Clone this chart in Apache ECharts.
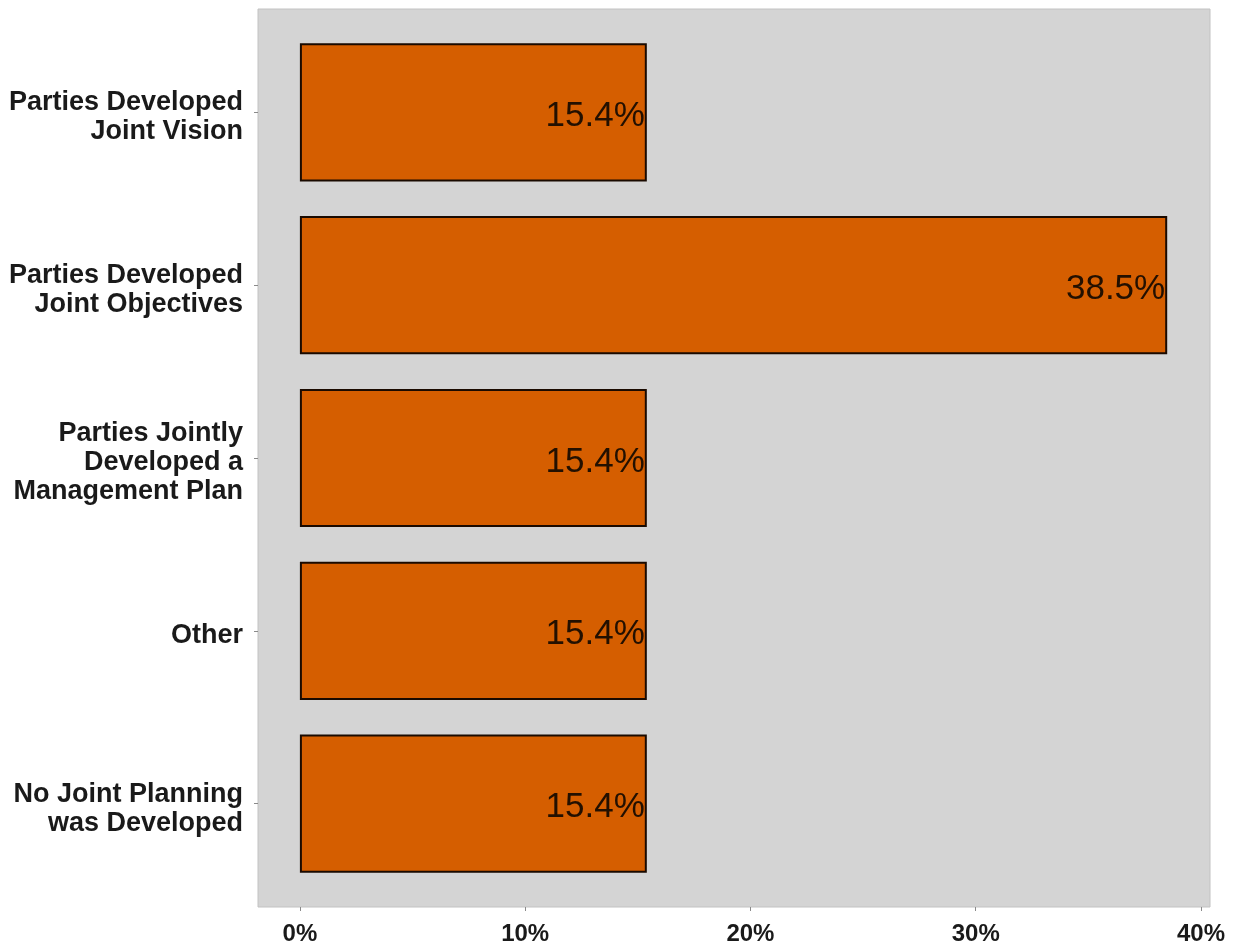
<!DOCTYPE html>
<html>
<head>
<meta charset="utf-8">
<script src="https://cdn.jsdelivr.net/npm/echarts@6/dist/echarts.min.js"></script>
<style>
  html, body { margin: 0; padding: 0; background: #ffffff; }
  #chart { width: 1233px; height: 949px; }
</style>
</head>
<body>
<div id="chart"></div>
<script>
// Categories (top to bottom) and their shares, in percent
const categories = [
  'Parties Developed\nJoint Vision',
  'Parties Developed\nJoint Objectives',
  'Parties Jointly\nDeveloped a\nManagement Plan',
  'Other',
  'No Joint Planning\nwas Developed'
];
const shares = [15.4, 38.5, 15.4, 15.4, 15.4];
const tickValues = [0, 10, 20, 30, 40];
const tickLabels = ['0%', '10%', '20%', '30%', '40%'];

const X_MIN = -1.86, X_MAX = 40.4;
const FONT = '"Liberation Sans", Arial, sans-serif';

const chart = echarts.init(document.getElementById('chart'), null, { renderer: 'canvas' });

chart.setOption({
  backgroundColor: '#ffffff',
  animation: false,
  grid: [
    // grey panel with the percentage axis
    { left: 258, right: 23, top: 9, bottom: 42, show: true,
      backgroundColor: '#d4d4d4', borderColor: '#c2c2c2', borderWidth: 1 },
    // band area for the bars (panel padded by 0.1 band at each end)
    { left: 258, right: 23, top: 26, bottom: 59 },
    // category text sits a few pixels below the tick centres
    { left: 258, right: 23, top: 31, bottom: 54 }
  ],
  xAxis: [
    {
      gridIndex: 0, type: 'value', min: X_MIN, max: X_MAX,
      axisLine: { show: false },
      splitLine: { show: false },
      axisTick: { show: true, customValues: tickValues, length: 4,
                  lineStyle: { color: '#8a8a8a', width: 1 } },
      axisLabel: {
        customValues: tickValues,
        formatter: v => tickLabels[tickValues.indexOf(v)],
        fontFamily: FONT, fontWeight: 'bold', fontSize: 24, color: '#1a1a1a',
        margin: 15
      }
    },
    {
      gridIndex: 1, type: 'value', min: X_MIN, max: X_MAX, show: false,
      splitLine: { show: false }
    },
    {
      gridIndex: 2, type: 'value', min: X_MIN, max: X_MAX, show: false,
      splitLine: { show: false }
    }
  ],
  yAxis: [
    { gridIndex: 0, type: 'value', show: false, splitLine: { show: false } },
    {
      gridIndex: 1, type: 'category', data: categories, inverse: true,
      axisLine: { show: false, onZero: false },
      axisTick: { show: true, alignWithLabel: true, length: 4,
                  lineStyle: { color: '#8a8a8a', width: 1 } },
      axisLabel: { show: false }
    },
    {
      gridIndex: 2, type: 'category', data: categories, inverse: true,
      axisLine: { show: false, onZero: false },
      axisTick: { show: false },
      axisLabel: {
        fontFamily: FONT, fontWeight: 'bold', fontSize: 27, color: '#1a1a1a',
        lineHeight: 29, align: 'right', margin: 15
      }
    }
  ],
  series: [{
    type: 'bar',
    xAxisIndex: 1, yAxisIndex: 1,
    data: shares,
    barWidth: '80%',
    itemStyle: { color: '#D55E00', borderColor: '#1a0a00', borderWidth: 2 },
    label: {
      show: true, position: 'insideRight', distance: 2, offset: [0, 4],
      formatter: p => p.value.toFixed(1) + '%',
      fontFamily: FONT, fontSize: 35, color: '#231000'
    }
  }]
});
</script>
</body>
</html>
